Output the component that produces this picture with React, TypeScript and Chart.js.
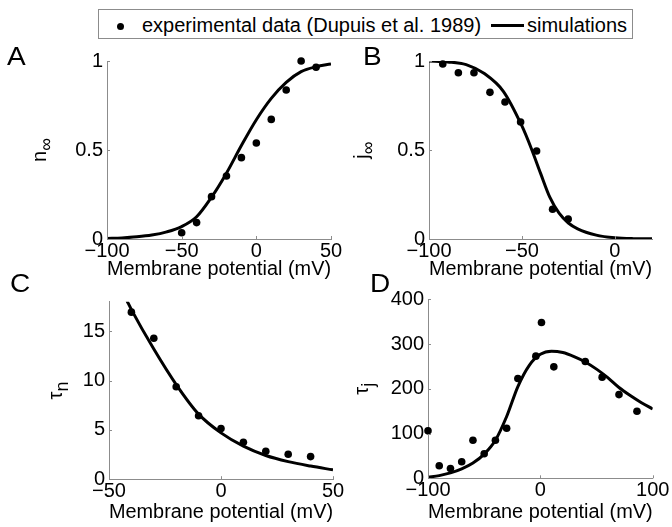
import React, { useEffect, useRef } from 'react';
import { Chart, registerables } from 'chart.js';

Chart.register(...registerables);

const FONT = '"Liberation Sans", Arial, Helvetica, sans-serif';
const AXIS = '#8c8c8c';

// Panel A: n_inf
const nInfExpV = [-50, -40, -30, -20, -10, 0, 10, 20, 30, 40];
const nInfExp = [0.035, 0.092, 0.238, 0.354, 0.457, 0.539, 0.672, 0.837, 1.0, 0.965];
const nInfSimV = [-100, -90, -80, -70, -60, -50, -40, -30, -20, -10, 0, 10, 20, 30, 40, 50];
const nInfSim = [0.003, 0.006, 0.012, 0.022, 0.04, 0.07, 0.125, 0.235, 0.37, 0.525, 0.67, 0.79, 0.88, 0.94, 0.968, 0.983];

// Panel B: j_inf
const jInfExpV = [-92.6, -84.2, -75.8, -67.2, -59.1, -50.7, -42.1, -33.5, -25.1];
const jInfExp = [0.983, 0.934, 0.934, 0.824, 0.77, 0.657, 0.494, 0.167, 0.112];
const jInfSimV = [-100, -90, -80, -70, -60, -50, -45, -40, -35, -30, -25, -20, -10, 0, 10, 20];
const jInfSim = [1.0, 0.995, 0.98, 0.928, 0.83, 0.635, 0.51, 0.37, 0.235, 0.145, 0.09, 0.057, 0.022, 0.007, 0.002, 0.001];

// Panel C: tau_n
const tauNExpV = [-40, -30, -20, -10, 0, 10, 20, 30, 40];
const tauNExp = [16.94, 14.29, 9.38, 6.43, 5.14, 3.75, 2.84, 2.53, 2.29];
const tauNSimV = [-42, -40, -30, -20, -10, 0, 10, 20, 30, 40, 50];
const tauNSim = [18.1, 17.2, 13.2, 9.6, 6.6, 4.7, 3.35, 2.4, 1.78, 1.33, 0.95];

// Panel D: tau_j
const tauJExpV = [-100, -90, -80, -70, -60, -50, -40, -30, -20, -4, 1, 12, 40, 55, 70, 86];
const tauJExp = [106, 28, 22, 37, 85, 55, 85, 112, 223, 273, 348, 249, 261, 226, 187, 150];
const tauJSimV = [-100, -90, -80, -70, -60, -50, -40, -30, -20, -10, 0, 10, 20, 30, 40, 50, 60, 70, 80, 90, 100];
const tauJSim = [2, 6, 12, 21, 34, 54, 85, 138, 205, 252, 277, 284, 281, 272, 260, 244, 225, 203, 185, 169, 155];

const xTitle = 'Membrane potential (mV)';
const legendExp = 'experimental data (Dupuis et al. 1989)';
const legendSim = 'simulations';

const pts = (xs: number[], ys: number[]) => xs.map((x, i) => ({ x, y: ys[i] }));
const fmt = (v: number | string) => String(v).replace('-', '\u2212');

type Panel = {
  key: string;
  left: number; top: number; w: number; h: number;
  padTop: number; padRight: number; yAxisW: number; xAxisH: number; titlePad: number;
  xMin: number; xMax: number; xStep: number;
  yMin: number; yMax: number; yStep: number;
  exp: { x: number; y: number }[];
  sim: { x: number; y: number }[];
  letter: string; letterX: number; letterY: number;
  main: string; sub: string; labelX: number;
};

const panels: Panel[] = [
  {
    key: 'A', left: 0, top: 44, w: 350, h: 246,
    padTop: 17, padRight: 19, yAxisW: 107, xAxisH: 51, titlePad: 9,
    xMin: -100, xMax: 50, xStep: 50, yMin: 0, yMax: 1, yStep: 0.5,
    exp: pts(nInfExpV, nInfExp), sim: pts(nInfSimV, nInfSim),
    letter: 'A', letterX: 7, letterY: 65, main: 'n', sub: '\u221E', labelX: 46,
  },
  {
    key: 'B', left: 340, top: 44, w: 332, h: 246,
    padTop: 17, padRight: 20, yAxisW: 89, xAxisH: 51, titlePad: 9,
    xMin: -100, xMax: 20, xStep: 50, yMin: 0, yMax: 1, yStep: 0.5,
    exp: pts(jInfExpV, jInfExp), sim: pts(jInfSimV, jInfSim),
    letter: 'B', letterX: 363, letterY: 65, main: 'j', sub: '\u221E', labelX: 368,
  },
  {
    key: 'C', left: 0, top: 268, w: 350, h: 259,
    padTop: 33.7, padRight: 17, yAxisW: 109, xAxisH: 47.8, titlePad: 3,
    xMin: -50, xMax: 50, xStep: 50, yMin: 0, yMax: 18, yStep: 5,
    exp: pts(tauNExpV, tauNExp), sim: pts(tauNSimV, tauNSim),
    letter: 'C', letterX: 10, letterY: 292, main: '\u03C4', sub: 'n', labelX: 62,
  },
  {
    key: 'D', left: 340, top: 268, w: 332, h: 259,
    padTop: 31.3, padRight: 19.3, yAxisW: 88, xAxisH: 48.7, titlePad: 3,
    xMin: -100, xMax: 100, xStep: 100, yMin: 0, yMax: 400, yStep: 100,
    exp: pts(tauJExpV, tauJExp), sim: pts(tauJSimV, tauJSim),
    letter: 'D', letterX: 370, letterY: 292, main: '\u03C4', sub: 'j', labelX: 368,
  },
];

function decoPlugin(p: Panel) {
  return {
    id: 'deco' + p.key,
    afterDraw(chart: any) {
      const ctx = chart.ctx as CanvasRenderingContext2D;
      const a = chart.chartArea;
      const xs = chart.scales.x;
      const ys = chart.scales.y;
      ctx.save();
      ctx.strokeStyle = AXIS;
      ctx.lineWidth = 1;
      ctx.beginPath();
      xs.ticks.forEach((t: any) => {
        const px = Math.round(xs.getPixelForValue(t.value)) + 0.5;
        ctx.moveTo(px, a.bottom);
        ctx.lineTo(px, a.bottom - 3);
      });
      ys.ticks.forEach((t: any) => {
        const py = Math.round(ys.getPixelForValue(t.value)) + 0.5;
        ctx.moveTo(a.left, py);
        ctx.lineTo(a.left + 3, py);
      });
      ctx.stroke();

      ctx.fillStyle = '#000';
      ctx.textAlign = 'left';
      ctx.textBaseline = 'alphabetic';
      ctx.save();
      ctx.translate(p.letterX - p.left, p.letterY - p.top);
      ctx.scale(1.12, 1);
      ctx.font = `25px ${FONT}`;
      ctx.fillText(p.letter, 0, 0);
      ctx.restore();

      ctx.font = `20px ${FONT}`;
      const mw = ctx.measureText(p.main).width;
      ctx.font = `18px ${FONT}`;
      const sw = ctx.measureText(p.sub).width;
      const total = mw + sw;
      const cy = (a.top + a.bottom) / 2;
      ctx.translate(p.labelX - p.left, cy);
      ctx.rotate(-Math.PI / 2);
      ctx.font = `20px ${FONT}`;
      ctx.fillText(p.main, -total / 2, 0);
      ctx.font = `18px ${FONT}`;
      ctx.fillText(p.sub, -total / 2 + mw, 6);
      ctx.restore();
    },
  };
}

function PanelChart({ p }: { p: Panel }) {
  const ref = useRef<HTMLCanvasElement | null>(null);
  useEffect(() => {
    if (!ref.current) return;
    const chart = new Chart(ref.current, {
      type: 'scatter',
      data: {
        datasets: [
          {
            label: legendExp,
            data: p.exp,
            pointRadius: 3.8,
            pointBackgroundColor: '#000',
            pointBorderWidth: 0,
            borderColor: '#000',
            showLine: false,
            clip: false,
          } as any,
          {
            label: legendSim,
            data: p.sim,
            showLine: true,
            pointRadius: 0,
            borderColor: '#000',
            borderWidth: 3,
            cubicInterpolationMode: 'monotone',
            fill: false,
          } as any,
        ],
      },
      options: {
        responsive: false,
        animation: false,
        events: [],
        layout: { padding: { left: 0, top: p.padTop, right: p.padRight, bottom: 0 } },
        plugins: { legend: { display: false }, tooltip: { enabled: false } },
        scales: {
          x: {
            type: 'linear',
            min: p.xMin,
            max: p.xMax,
            border: { display: true, color: AXIS, width: 1 },
            grid: { display: false, drawTicks: false },
            ticks: {
              stepSize: p.xStep,
              includeBounds: false,
              padding: 0,
              color: '#000',
              font: { size: 20, family: FONT },
              maxRotation: 0,
              autoSkip: false,
              callback: (v: any) => fmt(v),
            },
            title: {
              display: true,
              text: xTitle,
              color: '#000',
              font: { size: 20, family: FONT },
              padding: { top: 0, bottom: p.titlePad },
            },
            afterFit: (s: any) => { s.height = p.xAxisH; },
          },
          y: {
            type: 'linear',
            min: p.yMin,
            max: p.yMax,
            border: { display: true, color: AXIS, width: 1 },
            grid: { display: false, drawTicks: false },
            ticks: {
              stepSize: p.yStep,
              includeBounds: false,
              padding: 4,
              color: '#000',
              font: { size: 20, family: FONT },
              autoSkip: false,
              callback: (v: any) => fmt(v),
            },
            afterFit: (s: any) => { s.width = p.yAxisW; },
          },
        },
      } as any,
      plugins: [decoPlugin(p)],
    });
    return () => chart.destroy();
  }, [p]);
  return (
    <canvas
      ref={ref}
      width={p.w}
      height={p.h}
      style={{ position: 'absolute', left: p.left, top: p.top, width: p.w, height: p.h }}
    />
  );
}

export default function App() {
  const textStyle: React.CSSProperties = {
    position: 'absolute',
    top: 14,
    fontFamily: FONT,
    fontSize: 20,
    lineHeight: '23px',
    color: '#000',
    whiteSpace: 'nowrap',
  };
  return (
    <div style={{ position: 'absolute', left: 0, top: 0, width: 672, height: 527, background: '#fff', overflow: 'hidden' }}>
      {panels.map((p) => (
        <PanelChart key={p.key} p={p} />
      ))}
      <div
        style={{
          position: 'absolute', left: 98, top: 9, width: 535, height: 30,
          border: '1px solid #8c8c8c', boxSizing: 'border-box', background: '#fff',
        }}
      />
      <div style={{ position: 'absolute', left: 116.5, top: 22.5, width: 7, height: 7, borderRadius: '50%', background: '#000' }} />
      <span style={{ ...textStyle, left: 142 }}>{legendExp}</span>
      <div style={{ position: 'absolute', left: 491, top: 24, width: 33, height: 3, background: '#000' }} />
      <span style={{ ...textStyle, left: 527 }}>{legendSim}</span>
    </div>
  );
}
